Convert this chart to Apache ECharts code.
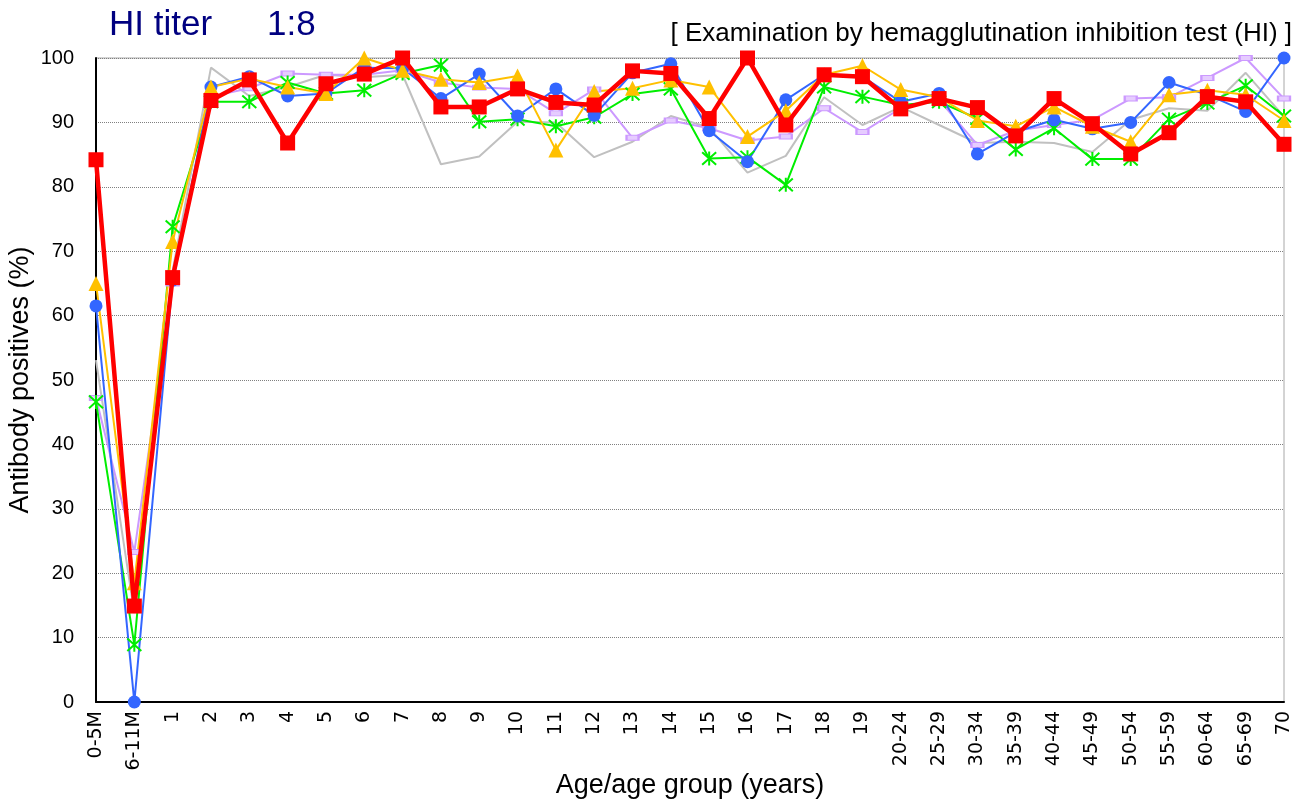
<!DOCTYPE html>
<html>
<head>
<meta charset="utf-8">
<script src="https://cdn.jsdelivr.net/npm/echarts@6/dist/echarts.min.js"></script>
<style>
  html, body { margin: 0; padding: 0; background: #fff; }
  #chart { width: 1309px; height: 801px; }
</style>
</head>
<body>
<div id="chart"></div>
<script>
// age groups on the x axis
const ageGroups = ['0-5M', '6-11M', '1', '2', '3', '4', '5', '6', '7', '8', '9', '10',
  '11', '12', '13', '14', '15', '16', '17', '18', '19', '20-24', '25-29', '30-34',
  '35-39', '40-44', '45-49', '50-54', '55-59', '60-64', '65-69', '70']

const yTicks = [0, 10, 20, 30, 40, 50, 60, 70, 80, 90, 100]

// antibody positives (%) per season
const grayValues = [53.1, 13.8, 67, 98.5, 94.1, 95.5, 97.4, 97.0, 97.4, 83.5, 84.7, 90.1,
  90.0, 84.6, 87.0, 91.0, 89.2, 82.2, 84.8, 93.9, 89.6, 92.4, 89.6, 86.8,
  87.0, 86.8, 85.4, 90.4, 92.2, 91.8, 97.7, 90.9]
const purpleValues = [47.2, 23.3, 65.0, 94.0, 95.3, 97.6, 97.4, 97.4, 98.1, 96.2, 95.4, 95.2,
  91.4, 95.1, 87.6, 90.3, 89.1, 87.2, 87.8, 92.2, 88.5, 92.2, 93.5, 86.5,
  88.7, 89.6, 90.4, 93.7, 93.9, 96.9, 100, 93.7]
const greenValues = [46.6, 8.9, 73.8, 93.2, 93.2, 96.2, 94.5, 95.0, 97.6, 98.9, 90.1, 90.5,
  89.4, 90.8, 94.4, 95.2, 84.4, 84.6, 80.3, 95.5, 94.0, 92.7, 93.2, 90.6,
  85.8, 89.1, 84.3, 84.3, 90.5, 93.0, 95.7, 91.0]
const blueValues = [61.5, 0, 65.5, 95.5, 97.1, 94.1, 94.5, 98.5, 98.4, 93.7, 97.5, 91.0,
  95.2, 91.1, 97.7, 99.1, 88.7, 83.9, 93.5, 97.4, 97.1, 93.2, 94.5, 85.1,
  88.5, 90.4, 89.0, 90.0, 96.2, 94.3, 91.7, 100]
const yellowValues = [65.0, 18.5, 71.5, 95.5, 96.8, 95.5, 94.5, 100, 98.1, 96.7, 96.2, 97.2,
  85.7, 94.8, 95.3, 96.6, 95.5, 87.8, 91.8, 97.4, 98.8, 95.1, 93.9, 90.3,
  89.4, 92.4, 89.4, 87.0, 94.3, 95.0, 94.3, 90.3]
const redValues = [84.2, 14.9, 65.9, 93.4, 96.6, 86.8, 96.0, 97.5, 100, 92.4, 92.4, 95.2,
  93.1, 92.7, 98.0, 97.6, 90.6, 100, 89.6, 97.4, 97.1, 92.1, 93.7, 92.3,
  87.9, 93.7, 89.8, 85.1, 88.4, 94.0, 93.2, 86.6]

const asterisk = 'path://M0,-10L0,10M-9,-9L9,9M-9,9L9,-9'
const fontFamily = '"Liberation Sans", Arial, sans-serif'

const lineSeries = (data, color, width, symbol, size, extra) => {
  return Object.assign({
    type: 'line',
    data: data,
    symbol: symbol,
    symbolSize: size,
    showSymbol: symbol !== 'none',
    lineStyle: { color: color, width: width },
    itemStyle: { color: color },
    animation: false,
    z: 2
  }, extra || {})
}

const chart = echarts.init(document.getElementById('chart'))
chart.setOption({
  backgroundColor: '#fff',
  title: [
    {
      text: 'HI titer',
      left: 104,
      top: 3,
      textStyle: { color: '#000080', fontSize: 35, fontWeight: 'normal', fontFamily: fontFamily }
    },
    {
      text: '1:8',
      left: 262,
      top: 3,
      textStyle: { color: '#000080', fontSize: 35, fontWeight: 'normal', fontFamily: fontFamily }
    },
    {
      text: '[ Examination by hemagglutination inhibition test (HI) ]',
      right: 12,
      top: 16,
      textStyle: { color: '#000', fontSize: 26, fontWeight: 'normal', fontFamily: fontFamily }
    }
  ],
  grid: {
    left: 96,
    right: 25,
    top: 58,
    bottom: 99,
    containLabel: false,
    outerBoundsMode: 'none',
    show: true,
    borderColor: '#a8a8a8',
    borderWidth: 1
  },
  xAxis: {
    type: 'category',
    data: ageGroups,
    boundaryGap: false,
    name: 'Age/age group (years)',
    nameLocation: 'middle',
    nameGap: 70,
    nameMoveOverlap: false,
    nameTextStyle: { color: '#000', fontSize: 27, fontFamily: fontFamily },
    axisLine: { lineStyle: { color: '#000', width: 2 } },
    axisTick: { show: false },
    axisLabel: {
      rotate: 90,
      interval: 0,
      margin: 9,
      color: '#000',
      fontSize: 19,
      fontFamily: '"DejaVu Sans", sans-serif'
    },
    splitLine: { show: false }
  },
  yAxis: {
    type: 'value',
    min: yTicks[0],
    max: yTicks[yTicks.length - 1],
    interval: 10,
    name: 'Antibody positives (%)',
    nameLocation: 'middle',
    nameGap: 62,
    nameMoveOverlap: false,
    nameTextStyle: { color: '#000', fontSize: 27, fontFamily: fontFamily },
    axisLine: { show: true, lineStyle: { color: '#000', width: 2 } },
    axisTick: { show: false },
    axisLabel: { margin: 22, color: '#000', fontSize: 20, fontFamily: fontFamily },
    splitLine: { lineStyle: { color: '#808080', type: 'dotted', width: 1 } }
  },
  series: [
    lineSeries(grayValues, '#c0c0c0', 2, 'none', 0),
    lineSeries(purpleValues, '#cc99ff', 2, 'rect', [12, 5], {
      itemStyle: { color: '#e6ccff', borderColor: '#cc99ff', borderWidth: 1.5 }
    }),
    lineSeries(greenValues, '#00ee00', 2, asterisk, 14, {
      itemStyle: { color: '#00ee00', borderColor: '#00ee00', borderWidth: 2 }
    }),
    lineSeries(blueValues, '#3366ff', 2, 'circle', 13),
    lineSeries(yellowValues, '#ffc000', 2, 'triangle', 15),
    lineSeries(redValues, '#ff0000', 4.5, 'rect', 15, { z: 3 })
  ]
})
</script>
</body>
</html>
